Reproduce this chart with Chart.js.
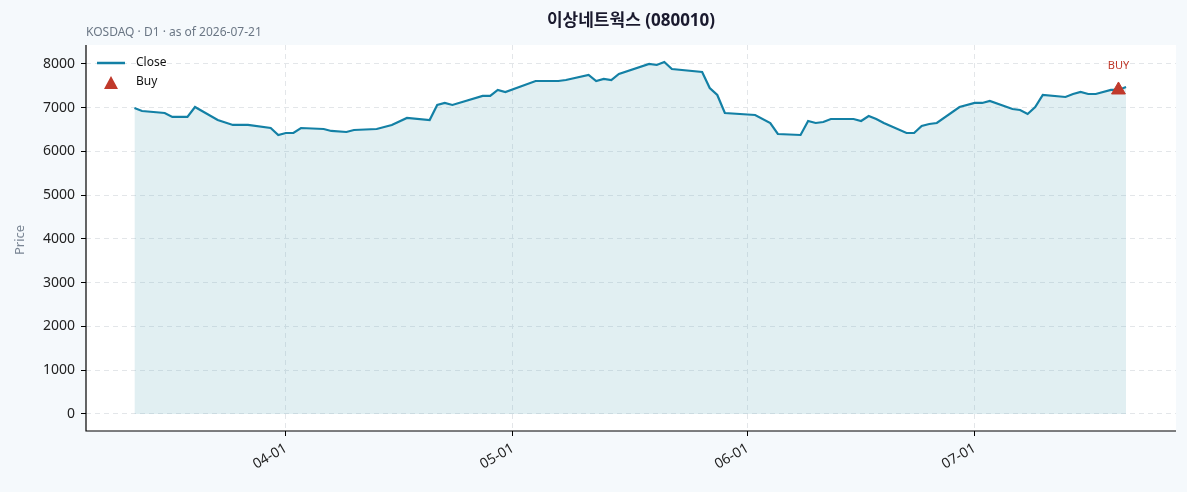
<!DOCTYPE html>
<html><head><meta charset="utf-8">
<script src="https://cdn.jsdelivr.net/npm/chart.js@4"></script>
<style>html,body{margin:0;padding:0;background:#f5f9fc;}canvas{display:block}</style>
</head><body><canvas id="c" width="1187" height="492"></canvas>
<script>
// day index: 0 = 2026-03-01
const days = [11,12,15,16,18,19,22,24,26,29,30,31,32,33,36,37,39,40,43,45,47,50,51,52,53,57,58,59,60,64,67,68,71,72,73,74,75,79,80,81,82,86,87,88,89,93,95,96,99,100,101,102,103,106,107,108,109,110,113,114,115,116,117,120,122,123,124,127,128,129,130,131,134,135,136,137,138,140,141,142];
const closes = [6994,6926,6880,6789,6789,7017,6720,6606,6606,6537,6377,6423,6423,6537,6514,6469,6446,6491,6514,6606,6766,6720,7063,7109,7063,7269,7269,7406,7360,7611,7611,7634,7749,7611,7657,7634,7771,8000,7977,8046,7886,7817,7451,7291,6880,6834,6651,6400,6377,6697,6651,6674,6743,6743,6697,6811,6743,6651,6423,6423,6583,6629,6651,7017,7109,7109,7154,6971,6949,6857,7017,7291,7246,7314,7360,7314,7314,7406,7406,7474];
const buyDays = [141];
const buyPrices = [7406];
const tickDays = [31,61,92,122];
const tickLabels = ['04-01','05-01','06-01','07-01'];
const yTicks = [0,1000,2000,3000,4000,5000,6000,7000,8000];

const FONT = '"Noto Sans", "Noto Sans CJK KR", sans-serif';
const deco = {
  id:'deco',
  beforeDraw(ch){
    const {ctx, chartArea:a} = ch;
    ctx.save();
    ctx.fillStyle='#f5f9fc'; ctx.fillRect(0,0,ch.width,ch.height);
    ctx.fillStyle='#ffffff'; ctx.fillRect(a.left,a.top,a.right-a.left,a.bottom-a.top);
    ctx.restore();
  },
  afterDraw(ch){
    const {ctx, chartArea:a} = ch;
    ctx.save();
    ctx.fillStyle='#1a1a2e'; ctx.font='bold 17px '+FONT; ctx.textAlign='center'; ctx.textBaseline='middle';
    ctx.fillText('이상네트웍스 (080010)', 631, 21);
    ctx.fillStyle='#6b7785'; ctx.font='12px '+FONT; ctx.textAlign='left';
    ctx.fillText('KOSDAQ · D1 · as of 2026-07-21', 86, 33);
    ctx.save(); ctx.translate(20, 240); ctx.rotate(-Math.PI/2); ctx.textAlign='center';
    ctx.fillStyle='#7a8694'; ctx.font='13px '+FONT; ctx.fillText('Price',0,0); ctx.restore();
    ctx.strokeStyle='#000'; ctx.lineWidth=1.2;
    ctx.beginPath(); ctx.moveTo(a.left,a.top); ctx.lineTo(a.left,a.bottom); ctx.lineTo(a.right,a.bottom); ctx.stroke();
    ctx.strokeStyle='#1380a5'; ctx.lineWidth=2.5;
    ctx.beginPath(); ctx.moveTo(97,63); ctx.lineTo(125,63); ctx.stroke();
    ctx.fillStyle='#111'; ctx.font='12px '+FONT; ctx.textAlign='left';
    ctx.fillText('Close',136,63); ctx.fillText('Buy',136,82);
    ctx.fillStyle='#c0392b'; ctx.beginPath(); ctx.moveTo(111,76); ctx.lineTo(118,89); ctx.lineTo(104,89); ctx.closePath(); ctx.fill();
    const xs=ch.scales.x, ys=ch.scales.y;
    ctx.fillStyle='#c0392b'; ctx.font='11px '+FONT; ctx.textAlign='center';
    buyDays.forEach((d,i)=>ctx.fillText('BUY', xs.getPixelForValue(d), ys.getPixelForValue(buyPrices[i])-24));
    ctx.restore();
  }
};

new Chart(document.getElementById('c'),{
  type:'line',
  data:{datasets:[
    {label:'Buy', data:buyDays.map((d,i)=>({x:d,y:buyPrices[i]})), showLine:false, pointStyle:'triangle', pointRadius:8, pointHoverRadius:8, backgroundColor:'#c0392b', borderColor:'#c0392b', order:0},
    {label:'Close', data:days.map((d,i)=>({x:d,y:closes[i]})), borderColor:'#1380a5', borderWidth:2.2, pointRadius:0, fill:'origin', backgroundColor:'rgba(120,180,195,0.22)', tension:0, order:1}
  ]},
  options:{
    responsive:false, animation:false, devicePixelRatio:1,
    layout:{padding:{left:0,right:11,top:45,bottom:0}},
    plugins:{legend:{display:false}, tooltip:{enabled:false}},
    scales:{
      x:{type:'linear', min:4.6, max:148.6,
        afterBuildTicks:s=>{s.ticks=tickDays.map(v=>({value:v}));},
        afterFit:s=>{s.height=61;},
        ticks:{callback:(v)=>tickLabels[tickDays.indexOf(v)], minRotation:30, maxRotation:30, color:'#222', font:{size:14,family:FONT}, padding:4},
        grid:{color:'#e3e6e9', tickLength:5, tickColor:'#000'}, border:{display:false, dash:[5,4]}},
      y:{min:-389, max:8434,
        afterBuildTicks:s=>{s.ticks=yTicks.map(v=>({value:v}));},
        afterFit:s=>{s.width=86;},
        ticks:{callback:v=>String(v), color:'#222', font:{size:14,family:FONT}, padding:6},
        grid:{color:'#e3e6e9', tickLength:5, tickColor:'#000'}, border:{display:false, dash:[5,4]}}
    }
  },
  plugins:[deco]
});
</script></body></html>
